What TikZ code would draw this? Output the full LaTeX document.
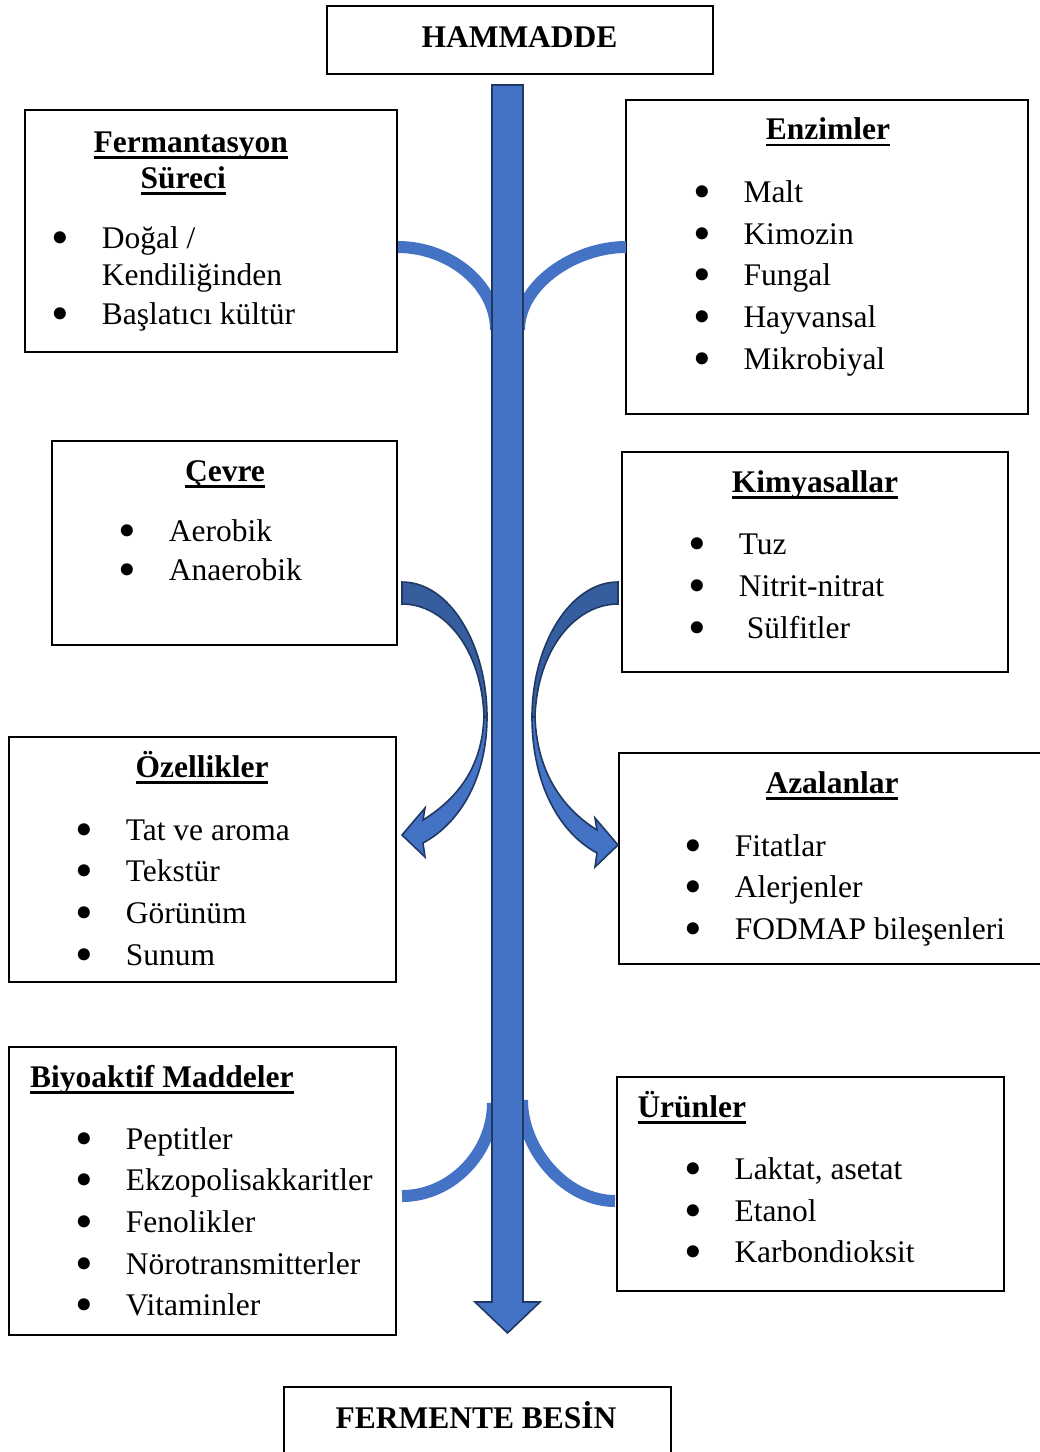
\documentclass[tikz,border=0pt]{standalone}
\usepackage{fontspec}
\setmainfont{Liberation Serif}
\definecolor{ablue}{HTML}{4472C4}
\definecolor{ashade}{HTML}{365E9F}
\definecolor{anavy}{HTML}{1F3864}
\newcommand\ulx[1]{\setbox0=\hbox{#1}\rlap{\rule[-7pt]{\wd0}{2.8pt}}\box0}
\newcommand\bigbul{\hspace{-3.3pt}\smash{\raisebox{-6.2pt}{\scalebox{1.6}{•}}}}
\newcommand\bl{\makebox[47pt][l]{\bigbul}}
\begin{document}
\begin{tikzpicture}[x=1pt,y=-1pt,
  box/.style={draw, line width=2pt, inner sep=0pt, fill=white},
  ttl/.style={anchor=base, inner sep=0pt, font=\fontsize{31.5}{37}\selectfont\bfseries},
  ttlw/.style={ttl, anchor=base west},
  item/.style={anchor=base west, inner sep=0pt, font=\fontsize{31.5}{37}\selectfont},
  link/.style={draw=ablue, line width=12pt},
  blk/.style={draw=anavy, line width=1.6pt, line join=miter},
]
\useasboundingbox (0,0) rectangle (1040,1452);

% boxes
\node[box, minimum width=386pt, minimum height=68pt] (ham) at (520,40) {};
\node[box, minimum width=372pt, minimum height=242pt] (fer) at (211,231) {};
\node[box, minimum width=402pt, minimum height=314pt] (enz) at (827,257) {};
\node[box, minimum width=345pt, minimum height=204pt] (cev) at (224.5,543) {};
\node[box, minimum width=386pt, minimum height=220pt] (kim) at (815,562) {};
\node[box, minimum width=387pt, minimum height=245pt] (oze) at (202.5,859.5) {};
\node[box, minimum width=428pt, minimum height=211pt] (aza) at (833,858.5) {};
\node[box, minimum width=387pt, minimum height=288pt] (biy) at (202.5,1191) {};
\node[box, minimum width=387pt, minimum height=214pt] (urn) at (810.5,1184) {};
\node[box, minimum width=387pt, minimum height=90pt] (fb) at (477,1432) {};

% connector end points
\coordinate (a1) at (398,247);
\coordinate (a2) at (496,330);
\coordinate (b1) at (626,247);
\coordinate (b2) at (519,330);
\coordinate (c1) at (402,1196);
\coordinate (c2) at (493,1103);
\coordinate (d1) at (615,1201);
\coordinate (d2) at (522,1100);

% thin curved links
\draw[link] (a1) .. controls (449,247) and (496,284) .. (a2);
\draw[link] (b1) .. controls (575,247) and (519,284) .. (b2);
\draw[link] (c1) .. controls (452,1196) and (493,1152) .. (c2);
\draw[link] (d1) .. controls (566,1201) and (522,1150) .. (d2);

% main arrow
\draw[blk, fill=ablue] (492,85) -- (523,85) -- (523,1302) -- (540,1302) -- (507.5,1333)
  -- (475,1302) -- (492,1302) -- cycle;

% left curved arrow
\draw[blk, fill=ashade] (402,582) .. controls (450,582) and (487,645) .. (487,717)
  -- (484,717) .. controls (482,650) and (445,604) .. (402,604) -- cycle;
\draw[blk, fill=ablue] (487,717) .. controls (487,775) and (462,822) .. (423,843)
  -- (425,857) -- (402,835) -- (425,808) -- (423,820)
  .. controls (455,800) and (482,770) .. (484,717) -- cycle;

% right curved arrow
\draw[blk, fill=ashade] (618,582) .. controls (570,582) and (532,645) .. (532,717)
  -- (535,717) .. controls (537,650) and (575,604) .. (618,604) -- cycle;
\draw[blk, fill=ablue] (532,717) .. controls (532,782) and (558,832) .. (597,853)
  -- (595,867) -- (618,845) -- (595,818) -- (597,830)
  .. controls (565,810) and (537,775) .. (535,717) -- cycle;

% texts
\node[ttl] (tham) at (519.5,47) {HAMMADDE};
\node[ttl] (tfb) at (476,1428) {FERMENTE BESİN};

\node[ttl] (tfer1) at (190.7,152) {\ulx{Fermantasyon}};
\node[ttl] (tfer2) at (183.3,188) {\ulx{Süreci}};
\node[item] (f1) at (54.6,248) {\bl Doğal /};
\node[item] (f1b) at (101.6,285) {Kendiliğinden};
\node[item] (f2) at (54.6,324) {\bl Başlatıcı kültür};

\node[ttl] (tenz) at (828,139.3) {\ulx{Enzimler}};
\node[item] (e1) at (696.3,202.3) {\bl Malt};
\node[item] (e2) at (696.3,244) {\bl Kimozin};
\node[item] (e3) at (696.3,285.7) {\bl Fungal};
\node[item] (e4) at (696.3,327.3) {\bl Hayvansal};
\node[item] (e5) at (696.3,369) {\bl Mikrobiyal};

\node[ttl] (tcev) at (225,481) {\ulx{Çevre}};
\node[item] (c1t) at (121.6,541) {\bl Aerobik};
\node[item] (c2t) at (121.6,580) {\bl Anaerobik};

\node[ttl] (tkim) at (815,492) {\ulx{Kimyasallar}};
\node[item] (k1) at (691.6,554) {\bl Tuz};
\node[item] (k2) at (691.6,596) {\bl Nitrit-nitrat};
\node[item] (k3) at (691.6,638) {\makebox[55pt][l]{\bigbul}Sülfitler};

\node[ttl] (toze) at (202,777) {\ulx{Özellikler}};
\node[item] (o1) at (78.6,840) {\bl Tat ve aroma};
\node[item] (o2) at (78.6,881) {\bl Tekstür};
\node[item] (o3) at (78.6,923) {\bl Görünüm};
\node[item] (o4) at (78.6,965) {\bl Sunum};

\node[ttl] (taza) at (832,793) {\ulx{Azalanlar}};
\node[item] (z1) at (687.6,856) {\bl Fitatlar};
\node[item] (z2) at (687.6,897) {\bl Alerjenler};
\node[item] (z3) at (687.6,939) {\bl FODMAP bileşenleri};

\node[ttlw] (tbiy) at (30,1087) {\ulx{Biyoaktif Maddeler}};
\node[item] (y1) at (78.6,1149) {\bl Peptitler};
\node[item] (y2) at (78.6,1190) {\bl Ekzopolisakkaritler};
\node[item] (y3) at (78.6,1232) {\bl Fenolikler};
\node[item] (y4) at (78.6,1274) {\bl Nörotransmitterler};
\node[item] (y5) at (78.6,1315) {\bl Vitaminler};

\node[ttlw] (turn) at (637.3,1117) {\ulx{Ürünler}};
\node[item] (u1) at (687.3,1179.3) {\bl Laktat, asetat};
\node[item] (u2) at (687.3,1221.7) {\bl Etanol};
\node[item] (u3) at (687.3,1262.7) {\bl Karbondioksit};
\end{tikzpicture}
\end{document}
